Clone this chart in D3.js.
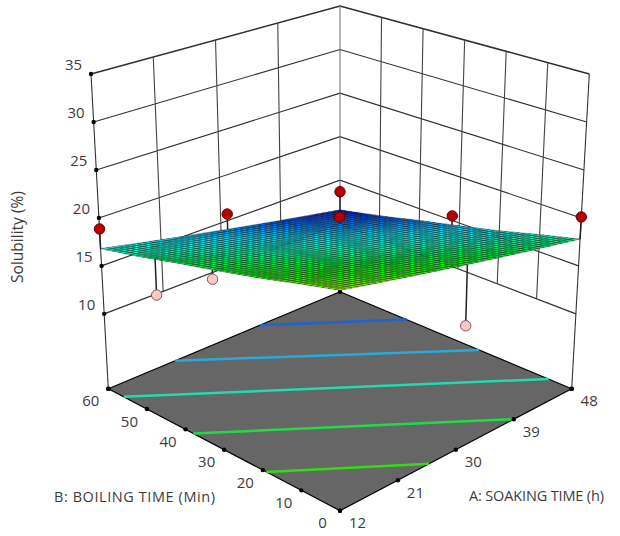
<!DOCTYPE html>
<html>
<head>
<meta charset="utf-8">
<script src="https://cdn.jsdelivr.net/npm/d3@7"></script>
<style>html,body{margin:0;padding:0;background:#fff}svg{display:block}text{font-family:"Open Sans",sans-serif;fill:#3c3c3c}</style>
</head>
<body>
<svg id="c" width="620" height="536"></svg>
<script>
// ---- chart data ----
const aTicks = [12, 21, 30, 39, 48];
const bTicks = [0, 10, 20, 30, 40, 50, 60];
const zTicks = [10, 15, 20, 25, 30, 35];
const zFloor = 2.2;
// fitted surface read at each B tick (rows) and A tick (columns)
const surfaceRows = [
  [23.0, 21.7, 20.4, 19.1, 17.8],
  [22.0, 20.7, 19.4, 18.1, 16.8],
  [20.9, 19.6, 18.3, 17.0, 15.7],
  [19.9, 18.6, 17.3, 16.0, 14.7],
  [18.9, 17.6, 16.3, 15.0, 13.7],
  [17.8, 16.5, 15.2, 13.9, 12.6],
  [16.8, 15.5, 14.2, 12.9, 11.6]
];
const contourLevels = [13.4, 15.3, 17.2, 19.1, 21.0];
const contourColors = ["#1e64d2", "#28a8dc", "#1edcb0", "#1edc46", "#32dc14"];
const surfaceLevels = [11.5, 13.4, 15.3, 17.2, 19.1, 21.0, 23.0];
const surfaceColors = ["#0008d0", "#0070ff", "#10e0ff", "#10ffc0", "#00f840", "#20ff00", "#a0ff00"];
// design points
const pointA = [12, 31, 48, 48, 48, 31, 20, 12, 31];
const pointB = [60, 60, 31.8, 0, 60, 31.8, 60, 31.8, 0];
const pointZ = [18.85, 15.73, 15.5, 20.1, 13.68, 20.13, 9.87, 18.77, 14.17];
const pointAbove = [1, 1, 1, 1, 1, 1, 0, 0, 0];
const titleA = "A: SOAKING TIME (h)";
const titleB = "B: BOILING TIME (Min)";
const titleZ = "Solubility (%)";

// ---- view box: screen position of the eight corners of the plot cube ----
const floorF = [340, 510.7], floorR = [571.7, 388.7], floorL = [108.3, 388.7], floorK = [340, 291.7];
const ceilF = [340, 163], ceilR = [589.3, 74], ceilL = [91, 74], ceilK = [340, 6];
const ua = d3.scaleLinear().domain([12, 48]).range([0, 1]);
const ub = d3.scaleLinear().domain([0, 60]).range([0, 1]);
const uz = d3.scaleLinear().domain([zFloor, 35]).range([0, 1]);
function quad(f, r, l, k, s, t) {
  return [0, 1].map(i => f[i]*(1-s)*(1-t) + r[i]*s*(1-t) + l[i]*(1-s)*t + k[i]*s*t);
}
function proj(a, b, z) {
  const s = ua(a), t = ub(b), w = uz(z);
  const p = quad(floorF, floorR, floorL, floorK, s, t), q = quad(ceilF, ceilR, ceilL, ceilK, s, t);
  return [p[0] + (q[0]-p[0])*w, p[1] + (q[1]-p[1])*w];
}
// surface value between table entries
const colIdx = d3.scaleLinear().domain(aTicks).range(aTicks.map((d,i)=>i));
const rowIdx = d3.scaleLinear().domain(bTicks).range(bTicks.map((d,i)=>i));
function surf(a, b) {
  const c = colIdx(a), r = rowIdx(b);
  const c0 = Math.min(Math.floor(c), aTicks.length-2), r0 = Math.min(Math.floor(r), bTicks.length-2);
  const fc = c-c0, fr = r-r0;
  return surfaceRows[r0][c0]*(1-fc)*(1-fr) + surfaceRows[r0][c0+1]*fc*(1-fr)
       + surfaceRows[r0+1][c0]*(1-fc)*fr + surfaceRows[r0+1][c0+1]*fc*fr;
}
const color = d3.scaleLinear().domain(surfaceLevels).range(surfaceColors);
const line = d3.line();
const svg = d3.select("#c");
const aMax = 48, aMin = 12, bMax = 60, bMin = 0, zTop = 35;

// walls
const wall = svg.append("g").attr("fill","none").attr("stroke","#2e2e2e").attr("stroke-width",1.1);
zTicks.forEach(z => {
  wall.append("path").attr("d", line([proj(aMin,bMax,z), proj(aMax,bMax,z), proj(aMax,bMin,z)]))
    .attr("stroke-width", z===zTop ? 1.5 : 1.1);
});
aTicks.slice(1,-1).forEach(a => wall.append("path").attr("d", line([proj(a,bMax,zTicks[0]), proj(a,bMax,zTop)])).attr("stroke","#444"));
bTicks.slice(1,-1).forEach(b => wall.append("path").attr("d", line([proj(aMax,b,zTicks[0]), proj(aMax,b,zTop)])).attr("stroke","#444"));
[[aMin,bMax],[aMax,bMax],[aMax,bMin]].forEach(([a,b]) =>
  wall.append("path").attr("d", line([proj(a,b,zFloor), proj(a,b,zTop)])).attr("stroke", a===aMax&&b===bMax ? "#777":"#333"));

// floor
svg.append("path").attr("fill","#666").attr("stroke","#000").attr("stroke-width",1.2).attr("stroke-linejoin","round")
  .attr("d", line([proj(aMin,bMin,zFloor), proj(aMax,bMin,zFloor), proj(aMax,bMax,zFloor), proj(aMin,bMax,zFloor)]) + "Z");

// floor contours: located with d3.contours, drawn edge to edge
const gridN = 121;
const gridA = d3.scaleLinear().domain([0, gridN-1]).range([aMin, aMax]);
const gridB = d3.scaleLinear().domain([0, gridN-1]).range([bMin, bMax]);
const gridVals = [];
for (let j=0;j<gridN;j++) for (let i=0;i<gridN;i++) gridVals.push(surf(gridA(i), gridB(j)));
const contourGen = d3.contours().size([gridN, gridN]);
contourLevels.forEach((lev,k) => {
  const geo = contourGen.contour(gridVals, lev);
  let pts = [];
  geo.coordinates.forEach(poly => poly.forEach(ring => ring.forEach(([x,y]) => {
    if (x>=0.5 && x<=gridN-0.5 && y>=0.5 && y<=gridN-0.5) {
      pts.push(proj(gridA(x-0.5), gridB(y-0.5), zFloor));
    }
  })));
  const ext = d3.extent(pts, p => p[0]);
  const ends = [pts.find(p => p[0]===ext[0]), pts.find(p => p[0]===ext[1])];
  svg.append("path").attr("fill","none").attr("stroke",contourColors[k]).attr("stroke-width",2.5).attr("d", line(ends));
});

// floor axis ticks
const dots = svg.append("g").attr("fill","#000");
aTicks.forEach(a => { const p = proj(a,bMin,zFloor); dots.append("circle").attr("cx",p[0]).attr("cy",p[1]).attr("r",2.2);
  svg.append("text").attr("x",p[0]+17.5).attr("y",p[1]+11.5).attr("text-anchor","middle").attr("dominant-baseline","central").attr("font-size",15).text(a); });
bTicks.forEach(b => { const p = proj(aMin,b,zFloor); dots.append("circle").attr("cx",p[0]).attr("cy",p[1]).attr("r",2.2);
  svg.append("text").attr("x",p[0]-17.5).attr("y",p[1]+11.5).attr("text-anchor","middle").attr("dominant-baseline","central").attr("font-size",15).text(b); });
zTicks.forEach(z => { const p = proj(aMin,bMax,z); dots.append("circle").attr("cx",p[0]).attr("cy",p[1]).attr("r",2.2);
  svg.append("text").attr("x",p[0]-17.5).attr("y",p[1]-10).attr("text-anchor","middle").attr("dominant-baseline","central").attr("font-size",15).text(z); });
[[aMin,bMax],[aMax,bMin],[aMax,bMax]].forEach(([a,b]) => { const p = proj(a,b,zFloor); dots.append("circle").attr("cx",p[0]).attr("cy",p[1]).attr("r",2.2); });

// drop lines (behind surface) and points below the surface
const drops = svg.append("g").attr("stroke","#222").attr("stroke-width",1.5).attr("fill","none");
pointA.forEach((a,i) => {
  drops.append("path").attr("d", line([proj(a,pointB[i],pointZ[i]), proj(a,pointB[i],surf(a,pointB[i]))]));
});
function drawPoint(i) {
  const p = proj(pointA[i], pointB[i], pointZ[i]);
  svg.append("circle").attr("cx",p[0]).attr("cy",p[1]).attr("r",5.2)
    .attr("fill", pointAbove[i] ? "#b80000" : "#fbc8c8")
    .attr("stroke", pointAbove[i] ? "#600000" : "#7a5a5a").attr("stroke-width",1);
}
pointA.forEach((a,i) => { if (!pointAbove[i]) drawPoint(i); });

// surface mesh, back to front
const meshN = 40;
const meshA = d3.scaleLinear().domain([0, meshN]).range([aMax, aMin]);
const meshB = d3.scaleLinear().domain([0, meshN]).range([bMax, bMin]);
const mesh = svg.append("g").attr("stroke","#000").attr("stroke-width",0.5).attr("stroke-opacity",0.7).attr("stroke-linejoin","round");
for (let i=0;i<meshN;i++) for (let j=0;j<meshN;j++) {
  const a0=meshA(i), a1=meshA(i+1), b0=meshB(j), b1=meshB(j+1);
  const v = surf((a0+a1)/2,(b0+b1)/2);
  mesh.append("path").attr("fill",color(v))
    .attr("d", line([proj(a0,b0,surf(a0,b0)),proj(a1,b0,surf(a1,b0)),proj(a1,b1,surf(a1,b1)),proj(a0,b1,surf(a0,b1))])+"Z");
}
pointA.forEach((a,i) => { if (pointAbove[i]) drawPoint(i); });

// axis titles
svg.append("text").attr("x",469).attr("y",495).attr("dominant-baseline","central").attr("font-size",14.5).attr("textLength",135).attr("lengthAdjust","spacing").text(titleA);
svg.append("text").attr("x",54).attr("y",496).attr("dominant-baseline","central").attr("font-size",14.5).attr("textLength",161).attr("lengthAdjust","spacing").text(titleB);
svg.append("text").attr("transform","translate(17,237) rotate(-90)").attr("text-anchor","middle").attr("dominant-baseline","central").attr("font-size",15.5).text(titleZ);
</script>
</body>
</html>
